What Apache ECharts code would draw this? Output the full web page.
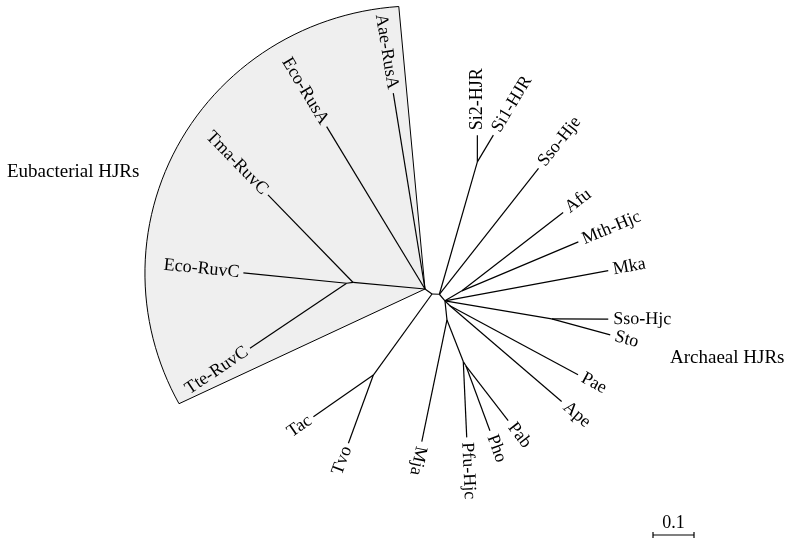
<!DOCTYPE html>
<html>
<head>
<meta charset="utf-8">
<title>HJR tree</title>
<script src="https://cdn.jsdelivr.net/npm/echarts@6/dist/echarts.min.js"></script>
<style>
  html, body { margin: 0; padding: 0; background: #fff; }
  #chart { width: 788px; height: 538px; }
</style>
</head>
<body>
<div id="chart"></div>
<script>
// unrooted tree as a branch table: child, parent, length (subst./site), direction (deg, ccw from east)
var branchChild = ['Aae-RusA', 'Eco-RusA', 'n2', 'Tma-RuvC', 'n3', 'Eco-RuvC', 'Tte-RuvC',
  'n4', 'n5', 'Tac', 'Tvo', 'n6', 'n7', 'Si2-HJR', 'Si1-HJR', 'Sso-Hje', 'n8', 'n9', 'Afu', 'Mth-Hjc',
  'Mka', 'n10', 'Sso-Hjc', 'Sto', 'n11', 'Pae', 'Ape', 'n12', 'Mja', 'n13', 'Pfu-Hjc', 'n14', 'Pho', 'Pab']
var branchParent = ['n1', 'n1', 'n1', 'n2', 'n2', 'n3', 'n3',
  'n1', 'n4', 'n5', 'n5', 'n4', 'n6', 'n7', 'n7', 'n6', 'n6', 'n8', 'n9', 'n9',
  'n8', 'n8', 'n10', 'n10', 'n8', 'n11', 'n11', 'n8', 'n12', 'n12', 'n13', 'n13', 'n14', 'n14']
var branchLength = [0.484, 0.463, 0.176, 0.298, 0.016, 0.253, 0.284,
  0.021, 0.244, 0.178, 0.177, 0.018, 0.336, 0.065, 0.076, 0.391, 0.021, 0.048, 0.312, 0.308,
  0.405, 0.264, 0.138, 0.148, 0.017, 0.355, 0.359, 0.047, 0.303, 0.109, 0.185, 0.012, 0.169, 0.169]
var branchAngle = [99.2, 121.2, 174.8, 134.2, 186.9, 174.3, 213.9,
  324.5, 234.1, 214.8, 249.9, 358, 74.0, 90, 59.1, 51.8, 310.4, 30.5, 37.7, 22.8,
  10.5, 350.4, 359.7, 344.7, 315, 331.7, 319.4, 276, 258.3, 291.4, 272.6, 302, 290.3, 307.6]

var scaleBarLength = 0.1
var scaleBarLabel = '0.1'

var cladeLabels = ['Eubacterial HJRs', 'Archaeal HJRs']
// shaded eubacterial sector round the root: angles (deg) and radii (subst./site)
var hullAngles = [95.3, 205]
var hullRadii = [0.692, 0.662]
var hullBulge = 0.02

var W = 788
var H = 538
var pxPerUnit = 410
var origin = [425, 289]
var font = '18px "Liberation Serif", "Times New Roman", serif'

var chart = echarts.init(document.getElementById('chart'))

// lay the tree out from the root
var pos = { n1: [0, 0] }
branchChild.forEach(function (name, i) {
  var p = pos[branchParent[i]]
  var a = branchAngle[i] * Math.PI / 180
  pos[name] = [p[0] + branchLength[i] * Math.cos(a), p[1] + branchLength[i] * Math.sin(a)]
})

function isTip (name) {
  return branchParent.indexOf(name) < 0
}

var branchData = branchChild.map(function (name, i) {
  var p = pos[branchParent[i]]
  return [p[0], p[1], pos[name][0], pos[name][1], i]
})

function renderBranch (params, api) {
  var i = api.value(4)
  var p1 = api.coord([api.value(0), api.value(1)])
  var p2 = api.coord([api.value(2), api.value(3)])
  var children = [{
    type: 'line',
    shape: { x1: p1[0], y1: p1[1], x2: p2[0], y2: p2[1] },
    style: { stroke: '#000', lineWidth: 1.2 }
  }]
  var name = branchChild[i]
  if (isTip(name)) {
    var deg = branchAngle[i]
    var flip = deg > 90 && deg < 255
    children.push({
      type: 'text',
      x: p2[0],
      y: p2[1],
      rotation: (flip ? deg - 180 : deg) * Math.PI / 180,
      style: {
        text: name,
        x: flip ? -4 : 5,
        y: 0,
        align: flip ? 'right' : 'left',
        verticalAlign: 'middle',
        font: font,
        fill: '#000'
      }
    })
  }
  return { type: 'group', children: children }
}

function renderHull (params, api) {
  var pts = [api.coord([0, 0])]
  var steps = 60
  for (var k = 0; k <= steps; k++) {
    var t = k / steps
    var a = (hullAngles[0] + (hullAngles[1] - hullAngles[0]) * t) * Math.PI / 180
    var r = hullRadii[0] + (hullRadii[1] - hullRadii[0]) * t + hullBulge * Math.sin(Math.PI * t)
    pts.push(api.coord([r * Math.cos(a), r * Math.sin(a)]))
  }
  return {
    type: 'polygon',
    shape: { points: pts },
    style: { fill: '#efefef', stroke: '#000', lineWidth: 1 }
  }
}

function renderScaleBar (params, api) {
  var len = api.size([scaleBarLength, 0])[0]
  var x0 = 653
  var y0 = 535
  var s = { stroke: '#000', lineWidth: 1.2 }
  return {
    type: 'group',
    children: [
      { type: 'line', shape: { x1: x0, y1: y0, x2: x0 + len, y2: y0 }, style: s },
      { type: 'line', shape: { x1: x0, y1: y0 - 3, x2: x0, y2: y0 + 3 }, style: s },
      { type: 'line', shape: { x1: x0 + len, y1: y0 - 3, x2: x0 + len, y2: y0 + 3 }, style: s },
      { type: 'text', x: x0 + len / 2, y: y0 - 3, style: { text: scaleBarLabel, align: 'center', verticalAlign: 'bottom', font: font, fill: '#000' } }
    ]
  }
}

var options = {
  animation: false,
  grid: { left: 0, right: 0, top: 0, bottom: 0 },
  xAxis: { type: 'value', show: false, min: -origin[0] / pxPerUnit, max: (W - origin[0]) / pxPerUnit },
  yAxis: { type: 'value', show: false, min: -(H - origin[1]) / pxPerUnit, max: origin[1] / pxPerUnit },
  graphic: [
    { type: 'text', left: 7, top: 163, style: { text: cladeLabels[0], font: '19px "Liberation Serif", serif', fill: '#000' } },
    { type: 'text', left: 670, top: 349, style: { text: cladeLabels[1], font: '19px "Liberation Serif", serif', fill: '#000' } }
  ],
  series: [ {
    type: 'custom',
    renderItem: renderHull,
    data: [[0, 0]],
    clip: false,
    silent: true,
    z: 1
  }, {
    type: 'custom',
    renderItem: renderBranch,
    data: branchData,
    clip: false,
    silent: true,
    z: 2
  }, {
    type: 'custom',
    renderItem: renderScaleBar,
    data: [[0, 0]],
    clip: false,
    silent: true,
    z: 2
  } ]
}

chart.setOption(options)
</script>
</body>
</html>
